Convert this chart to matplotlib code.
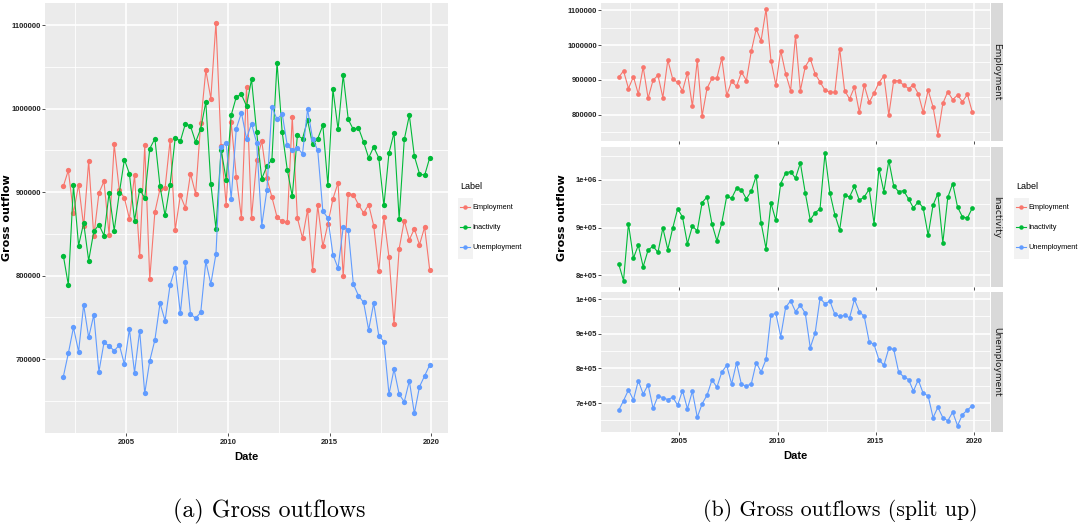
import numpy as np
import pandas as pd
import matplotlib
matplotlib.use('Agg')
import matplotlib.pyplot as plt
import matplotlib.dates as mdates
from matplotlib.lines import Line2D
from matplotlib.patches import Rectangle
from matplotlib import font_manager

# quarterly gross outflows (thousands), Dec 2001 .. Dec 2019
employment = [907, 926, 875, 909, 859, 937, 847, 899, 913, 849,
              957, 902, 893, 868, 920, 824, 956, 796, 876, 904,
              905, 962, 855, 896, 881, 922, 898, 983, 1046, 1012,
              1103, 955, 885, 984, 918, 869, 1026, 869, 938, 961,
              917, 894, 870, 865, 864, 990, 869, 845, 879, 807,
              884, 835, 862, 892, 911, 799, 898, 897, 885, 875,
              885, 860, 806, 870, 822, 742, 832, 866, 843, 856,
              837, 858, 807]
inactivity = [824, 789, 908, 836, 863, 818, 853, 861, 848, 899,
              854, 899, 939, 922, 866, 903, 893, 952, 964, 907,
              872, 909, 965, 961, 982, 979, 960, 976, 1008, 910,
              856, 951, 915, 992, 1014, 1017, 1003, 1035, 972, 916,
              931, 939, 1055, 972, 927, 895, 968, 964, 986, 957,
              964, 980, 908, 1023, 975, 1040, 987, 975, 977, 960,
              941, 954, 941, 884, 947, 971, 868, 963, 992, 943,
              922, 920, 941]
unemployment = [679, 707, 738, 709, 765, 726, 753, 685, 720, 716,
                710, 717, 694, 736, 684, 734, 659, 698, 723, 767,
                746, 789, 809, 755, 816, 754, 749, 756, 817, 790,
                826, 954, 959, 892, 976, 995, 964, 982, 959, 860,
                902, 1002, 987, 994, 956, 950, 953, 946, 999, 964,
                950, 877, 869, 825, 809, 858, 855, 790, 776, 768,
                735, 767, 728, 721, 658, 688, 658, 649, 674, 635,
                667, 680, 693]

labels = ['Employment', 'Inactivity', 'Unemployment']
colours = ['#F8766D', '#00BA38', '#619CFF']
series = [np.array(s) * 1000 for s in (employment, inactivity, unemployment)]
dates = pd.date_range('2001-12-01', periods=len(employment), freq='3MS')

major_years = [pd.Timestamp(f'{y}-01-01') for y in (2005, 2010, 2015, 2020)]
minor_years = [pd.Timestamp(f'{y}-07-02') for y in (2002, 2007, 2012, 2017)]

names = {f.name for f in font_manager.fontManager.ttflist}
NARROW = 'Liberation Sans Narrow' if 'Liberation Sans Narrow' in names else 'Liberation Sans'
TICK_SIZE = 6.5 if NARROW.endswith('Narrow') else 5.5
SERIF = 'cmr10' if 'cmr10' in names else 'DejaVu Serif'

W, H = 1081, 526
fig = plt.figure(figsize=(W / 100, H / 100), dpi=100)


def px_axes(l, t, r, b):
    return fig.add_axes([l / W, 1 - b / H, (r - l) / W, (b - t) / H])


def expand(lo, hi, f=0.05):
    pad = (hi - lo) * f
    return lo - pad, hi + pad


x0, x1 = mdates.date2num(dates[0]), mdates.date2num(dates[-1])
xlim = expand(x0, x1)


def gg_style(ax, values, yfmt, xlabels=True):
    ax.set_facecolor('#EBEBEB')
    for s in ax.spines.values():
        s.set_visible(False)
    lo, hi = expand(min(v.min() for v in values), max(v.max() for v in values))
    ax.set_ylim(lo, hi)
    ax.set_xlim(*xlim)
    major = [v for v in range(600000, 1200001, 100000) if lo <= v <= hi]
    minor = [v + 50000 for v in range(500000, 1200001, 100000) if lo <= v + 50000 <= hi]
    ax.set_yticks(major)
    ax.set_yticks(minor, minor=True)
    ax.set_yticklabels([yfmt(v) for v in major])
    ax.set_xticks(mdates.date2num(major_years))
    ax.set_xticks(mdates.date2num(minor_years), minor=True)
    if xlabels:
        ax.set_xticklabels([d.year for d in major_years])
    else:
        ax.set_xticklabels([])
        ax.tick_params(axis='x', which='major', length=0)
    ax.grid(True, which='major', color='white', lw=1.2)
    ax.grid(True, which='minor', color='white', lw=0.6)
    ax.set_axisbelow(True)
    ax.tick_params(which='major', length=2.2, width=0.6, color='#333333', pad=0.8)
    ax.tick_params(axis='x', which='major', pad=2.2)
    ax.tick_params(which='minor', length=0)
    for t in ax.get_yticklabels() + ax.get_xticklabels():
        t.set_fontfamily(NARROW)
        t.set_fontweight('bold')
        t.set_fontsize(TICK_SIZE)
        t.set_color('#222222')


def plot_series(ax, ys, col, ms):
    ax.plot(dates, ys, color=col, lw=0.8, marker='o', ms=ms, mew=0, zorder=3)


plain = lambda v: f'{int(v)}'
sci = lambda v: f'{v:.0e}'

# (a) all three series in one panel
ax_a = px_axes(45, 3, 448, 433)
for ys, col in zip(series, colours):
    plot_series(ax_a, ys, col, 3.8)
gg_style(ax_a, series, plain)
ax_a.set_xlabel('Date', fontfamily=NARROW, fontweight='bold', fontsize=8, labelpad=4)
fig.text(7 / W, 1 - 218 / H, 'Gross outflow', rotation=90, ha='center', va='center',
         fontweight='bold', fontsize=8)

# (b) one facet per series, free y scales
facet_rows = [(3, 141), (147, 287), (292, 432)]
facet_fmt = [plain, sci, sci]
for k, ((t, b), ys, col, lab, fmt) in enumerate(zip(facet_rows, series, colours, labels, facet_fmt)):
    ax = px_axes(601, t, 990, b)
    plot_series(ax, ys, col, 3.4)
    gg_style(ax, [ys], fmt, xlabels=(k == 2))
    strip = px_axes(991, t, 1003, b)
    strip.set_facecolor('#D9D9D9')
    strip.set_xticks([])
    strip.set_yticks([])
    for s in strip.spines.values():
        s.set_visible(False)
    strip.text(0.5, 0.5, lab, rotation=270, ha='center', va='center',
               fontsize=6.5, color='#1A1A1A', transform=strip.transAxes)
    if k == 2:
        ax.set_xlabel('Date', fontfamily=NARROW, fontweight='bold', fontsize=8, labelpad=4)
fig.text(562 / W, 1 - 218 / H, 'Gross outflow', rotation=90, ha='center', va='center',
         fontweight='bold', fontsize=8)

# legends
handles = [Line2D([], [], color=c, lw=0.8, marker='o', ms=3.2, mew=0) for c in colours]
for lx in (455, 1011):
    fig.add_artist(Rectangle(((lx + 3) / W, 1 - 259 / H), 15 / W, 61 / H,
                             transform=fig.transFigure, facecolor='#F2F2F2',
                             edgecolor='none', zorder=0))
    fig.legend(handles, labels, title='Label', loc='upper left',
               bbox_to_anchor=(lx / W, 1 - 177 / H), frameon=False,
               alignment='left', handlelength=1.3, handletextpad=0.4,
               labelspacing=1.75, borderpad=0.2,
               prop={'family': NARROW, 'size': 5.3},
               title_fontproperties={'family': NARROW, 'size': 6.5})

# sub-figure captions
fig.text(269 / W, 1 - 511 / H, '(a) Gross outflows', ha='center', va='center',
         fontfamily=SERIF, fontsize=17.2)
fig.text(840 / W, 1 - 511 / H, '(b) Gross outflows (split up)', ha='center', va='center',
         fontfamily=SERIF, fontsize=15.8)

fig.savefig('out.png', dpi=100)
